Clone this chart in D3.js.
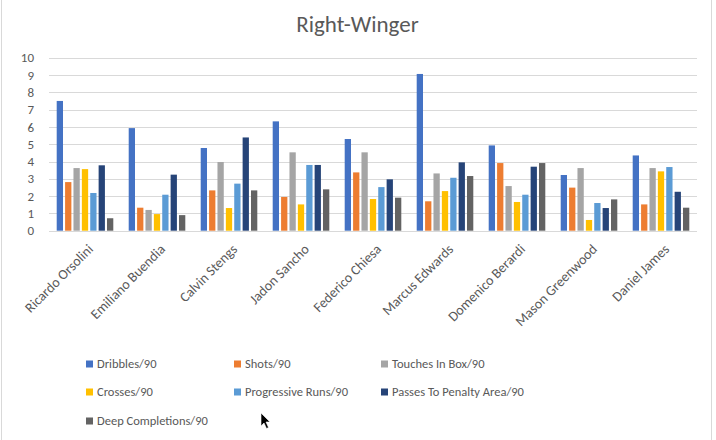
<!DOCTYPE html>
<html><head><meta charset="utf-8">
<script src="https://cdn.jsdelivr.net/npm/d3@7/dist/d3.min.js"></script>
<style>
html,body{margin:0;padding:0;background:#fff;}
svg{display:block;font-family:Carlito, Lato, "Open Sans", sans-serif;}
</style></head>
<body><svg id="chart" width="716" height="440"></svg>
<script>
const title = "Right-Winger";
const players = ["Ricardo Orsolini","Emiliano Buendia","Calvin Stengs","Jadon Sancho","Federico Chiesa","Marcus Edwards","Domenico Berardi","Mason Greenwood","Daniel James"];
const seriesNames = ["Dribbles/90","Shots/90","Touches In Box/90","Crosses/90","Progressive Runs/90","Passes To Penalty Area/90","Deep Completions/90"];
const seriesColors = ["#4472C4","#ED7D31","#A5A5A5","#FFC000","#5B9BD5","#264478","#636363"];
const dribbles      = [7.5, 5.93, 4.78, 6.32, 5.3, 9.06, 4.93, 3.22, 4.35];
const shots         = [2.81, 1.33, 2.33, 1.95, 3.37, 1.7, 3.91, 2.49, 1.52];
const touchesInBox  = [3.62, 1.2, 3.97, 4.53, 4.53, 3.31, 2.58, 3.62, 3.62];
const crosses       = [3.56, 0.96, 1.31, 1.52, 1.83, 2.29, 1.66, 0.62, 3.43];
const progRuns      = [2.18, 2.08, 2.72, 3.8, 2.52, 3.06, 2.08, 1.6, 3.68];
const passesToPA    = [3.78, 3.24, 5.39, 3.8, 2.97, 3.95, 3.7, 1.31, 2.25];
const deepComps     = [0.72, 0.9, 2.33, 2.39, 1.91, 3.16, 3.91, 1.81, 1.33];
const yTicks = [0,1,2,3,4,5,6,7,8,9,10];

const seriesValues = [dribbles, shots, touchesInBox, crosses, progRuns, passesToPA, deepComps];
const svg = d3.select("#chart");
const textColor = "#595959";

// outer frame
svg.append("line").attr("x1",1.5).attr("x2",1.5).attr("y1",0).attr("y2",440).attr("stroke","#d9d9d9");
svg.append("line").attr("x1",711.5).attr("x2",711.5).attr("y1",0).attr("y2",440).attr("stroke","#d9d9d9");

const plotLeft = 49, plotRight = 697, plotTop = 57.7, plotBottom = 230.7;
const x0 = d3.scaleBand().domain(players).range([plotLeft,plotRight]).paddingInner(0.214).paddingOuter(0.107);
const x1 = d3.scaleBand().domain(seriesNames).range([0,x0.bandwidth()]).paddingInner(0.25).paddingOuter(0);
const y = d3.scaleLinear().domain([0,10]).range([plotBottom,plotTop]);

svg.append("text").attr("x",357.5).attr("y",32).attr("text-anchor","middle")
  .attr("font-size",23).attr("fill",textColor).text(title);

// gridlines
svg.append("g").selectAll("line").data(yTicks).join("line")
  .attr("x1",plotLeft).attr("x2",plotRight)
  .attr("y1",d=>Math.round(y(d))+0.5).attr("y2",d=>Math.round(y(d))+0.5)
  .attr("stroke","#d9d9d9").attr("stroke-width",1.2);

// y axis labels
const yAxis = d3.axisLeft(y).tickValues(yTicks).tickSize(0).tickPadding(0);
const gy = svg.append("g").attr("transform",`translate(34,0)`).call(yAxis);
gy.select(".domain").remove();
gy.selectAll("text").attr("font-size",13).attr("fill",textColor).attr("font-family","Carlito, Lato, sans-serif");

// bars
const groups = svg.append("g").selectAll("g").data(players).join("g")
  .attr("transform",d=>`translate(${x0(d)},0)`);
groups.selectAll("rect").data((p,i)=>seriesNames.map((s,j)=>({s, j, v: seriesValues[j][i]}))).join("rect")
  .attr("x",d=>x1(d.s)).attr("width",x1.bandwidth())
  .attr("y",d=>y(d.v)).attr("height",d=>y(0)-y(d.v))
  .attr("fill",d=>seriesColors[d.j]);

// baseline
svg.append("line").attr("x1",plotLeft).attr("x2",plotRight).attr("y1",Math.round(y(0))+0.5).attr("y2",Math.round(y(0))+0.5)
  .attr("stroke","#d9d9d9").attr("stroke-width",1.2);

// category labels
const xAxis = d3.axisBottom(x0).tickSize(0).tickPadding(0);
const gx = svg.append("g").call(xAxis);
gx.select(".domain").remove();
gx.selectAll(".tick").attr("transform",d=>`translate(${x0(d)+x0.bandwidth()/2+2},243)`);
gx.selectAll("text").attr("font-size",14).attr("fill",textColor).attr("font-family","Carlito, Lato, sans-serif")
  .attr("text-anchor","end").attr("y",0).attr("dy","0.71em").attr("transform","rotate(-45)");

// legend
const legendPos = [[86,364],[234,364],[381,364],[86,392],[234,392],[381,392],[86,421]];
const lg = svg.append("g").selectAll("g").data(seriesNames).join("g")
  .attr("transform",(d,i)=>`translate(${legendPos[i][0]},${legendPos[i][1]})`);
lg.append("rect").attr("x",0).attr("y",-3.5).attr("width",7).attr("height",7).attr("fill",(d,i)=>seriesColors[i]);
lg.append("text").attr("x",11).attr("y",0).attr("dy","0.35em").attr("font-size",12.5).attr("fill",textColor).text(d=>d);

// mouse cursor in the reference screenshot
svg.append("path").attr("d","M261,413 L261,426 L264,423 L266.5,428.5 L268.5,427.5 L266,422 L270,422 Z")
  .attr("fill","#000").attr("stroke","#fff").attr("stroke-width",0.6);
</script></body></html>
